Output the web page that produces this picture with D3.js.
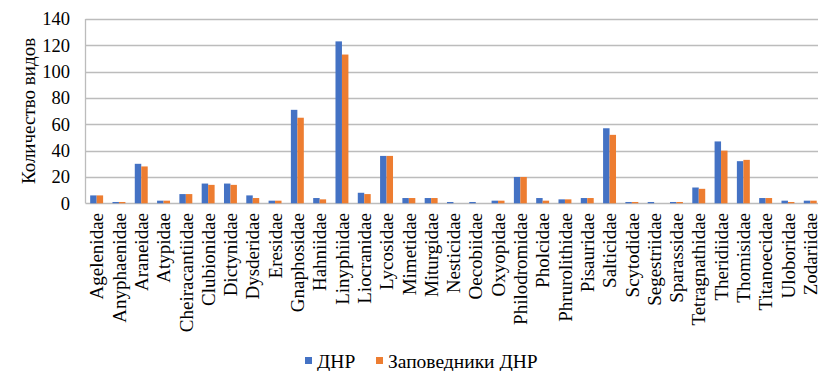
<!DOCTYPE html>
<html>
<head>
<meta charset="utf-8">
<script src="https://cdn.jsdelivr.net/npm/d3@7"></script>
<style>
  body { margin: 0; background: #fff; }
</style>
</head>
<body>
<svg id="chart" width="818" height="371"></svg>
<script>
// семейства пауков
const families = ["Agelenidae", "Anyphaenidae", "Araneidae", "Atypidae", "Cheiracantiidae",
  "Clubionidae", "Dictynidae", "Dysderidae", "Eresidae", "Gnaphosidae", "Hahniidae",
  "Linyphiidae", "Liocranidae", "Lycosidae", "Mimetidae", "Miturgidae", "Nesticidae",
  "Oecobiidae", "Oxyopidae", "Philodromidae", "Pholcidae", "Phrurolithidae", "Pisauridae",
  "Salticidae", "Scytodidae", "Segestriidae", "Sparassidae", "Tetragnathidae", "Theridiidae",
  "Thomisidae", "Titanoecidae", "Uloboridae", "Zodariidae"];

const dnr = [6, 1, 30, 2, 7, 15, 15, 6, 2, 71, 4, 123, 8, 36, 4, 4, 1, 1, 2, 20, 4, 3, 4,
  57, 1, 1, 1, 12, 47, 32, 4, 2, 2];
const reserves = [6, 1, 28, 2, 7, 14, 14, 4, 2, 65, 3, 113, 7, 36, 4, 4, 0, 0, 2, 20, 2, 3, 4,
  52, 1, 0, 1, 11, 40, 33, 4, 1, 2];

const seriesNames = ["ДНР", "Заповедники ДНР"];
const colors = ["#4472C4", "#ED7D31"];
const yTicks = [0, 20, 40, 60, 80, 100, 120, 140];

const FONT = "'Liberation Serif', 'Times New Roman', Tinos, 'DejaVu Serif', serif";

const svg = d3.select("#chart")
    .attr("font-family", FONT);

const plotLeft = 85.5, plotRight = 821.4, plotTop = 19, plotBottom = 203.3;

const x = d3.scaleBand()
    .domain(families)
    .range([plotLeft, plotRight])
    .paddingInner(0.42)
    .paddingOuter(0.21);

const xInner = d3.scaleBand()
    .domain([0, 1])
    .range([0, x.bandwidth()]);

const y = d3.scaleLinear()
    .domain([0, 140])
    .range([plotBottom, plotTop]);

// сетка
svg.append("g")
    .selectAll("line")
    .data(yTicks)
    .join("line")
    .attr("x1", plotLeft)
    .attr("x2", 818)
    .attr("y1", d => Math.round(y(d)) + 0.5)
    .attr("y2", d => Math.round(y(d)) + 0.5)
    .attr("stroke", "#bcbcbc")
    .attr("stroke-width", 1.3);

// вертикальная ось
svg.append("line")
    .attr("x1", plotLeft).attr("x2", plotLeft)
    .attr("y1", plotTop).attr("y2", plotBottom)
    .attr("stroke", "#bcbcbc")
    .attr("stroke-width", 1.3);

// подписи оси Y
svg.append("g")
    .selectAll("text")
    .data(yTicks)
    .join("text")
    .attr("x", 70)
    .attr("y", d => y(d))
    .attr("dy", "0.35em")
    .attr("text-anchor", "end")
    .attr("font-family", FONT)
    .attr("font-size", 18.5)
    .text(d => d);

// столбцы
const table = families.map((f, i) => ({ name: f, values: [dnr[i], reserves[i]] }));

svg.append("g")
    .selectAll("g")
    .data(table)
    .join("g")
    .attr("transform", d => `translate(${x(d.name)},0)`)
    .selectAll("rect")
    .data(d => d.values.map((v, k) => ({ k, v })))
    .join("rect")
    .attr("x", d => xInner(d.k))
    .attr("width", xInner.bandwidth())
    .attr("y", d => y(d.v))
    .attr("height", d => plotBottom - y(d.v))
    .attr("fill", d => colors[d.k]);

// подписи категорий
svg.append("g")
    .selectAll("text")
    .data(families)
    .join("text")
    .attr("transform", d => `translate(${x(d) + x.bandwidth() / 2},213) rotate(-90)`)
    .attr("dy", "0.35em")
    .attr("text-anchor", "end")
    .attr("font-family", FONT)
    .attr("font-size", 19)
    .text(d => d);

// заголовок оси Y
svg.append("text")
    .attr("transform", "translate(28,111) rotate(-90)")
    .attr("dy", "0.35em")
    .attr("text-anchor", "middle")
    .attr("font-family", FONT)
    .attr("font-size", 19)
    .text("Количество видов");

// легенда
const legendX = [305, 376];
const legend = svg.append("g")
    .selectAll("g")
    .data(seriesNames)
    .join("g")
    .attr("transform", (d, i) => `translate(${legendX[i]},357)`);

legend.append("rect")
    .attr("width", 7)
    .attr("height", 7)
    .attr("fill", (d, i) => colors[i]);

legend.append("text")
    .attr("x", 12)
    .attr("y", 4)
    .attr("dy", "0.35em")
    .attr("font-family", FONT)
    .attr("font-size", 19.5)
    .text(d => d);
</script>
</body>
</html>
